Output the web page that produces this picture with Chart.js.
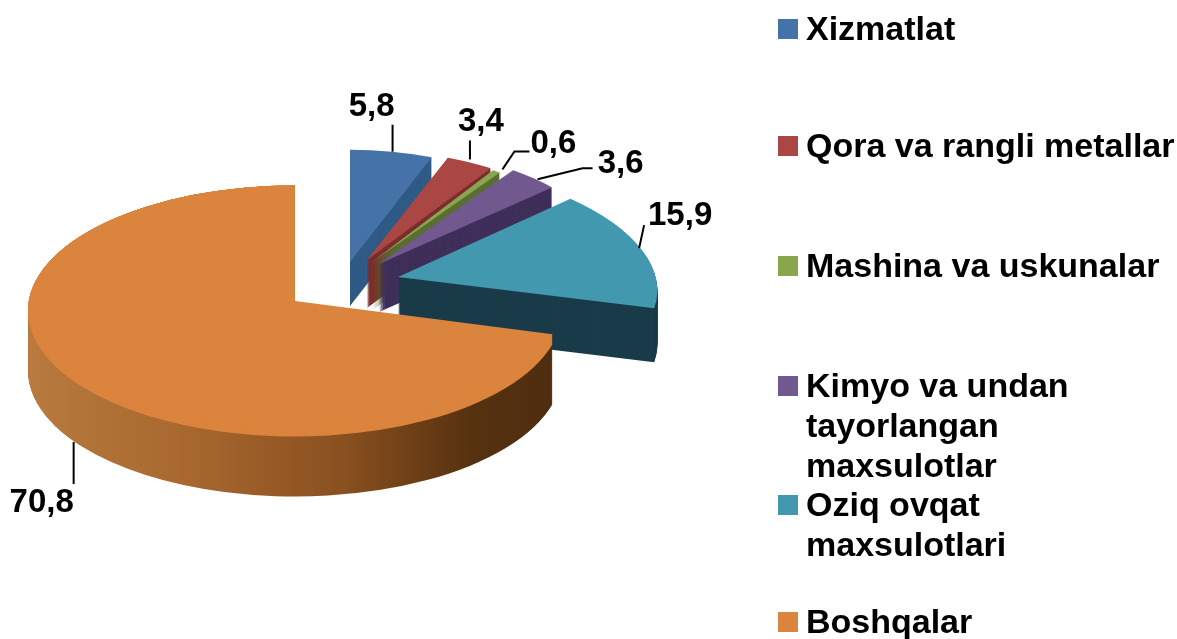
<!DOCTYPE html>
<html><head><meta charset="utf-8">
<style>html,body{margin:0;padding:0;background:#fff;overflow:hidden}canvas{display:block}</style>
<script src="https://cdn.jsdelivr.net/npm/chart.js@4"></script></head>
<body><canvas id="c" width="1177" height="639"></canvas>
<script>
const categories = ["Xizmatlat","Qora va rangli metallar","Mashina va uskunalar","Kimyo va undan tayorlangan maxsulotlar","Oziq ovqat maxsulotlari","Boshqalar"];
const values = [5.8,3.4,0.6,3.6,15.9,70.8];
const colors = ["#4572A7","#AA4643","#89A54E","#71588F","#4198AF","#DB843D"];
const wallColors = ["#2F5A85","#7A2E2C","#5A6E31","#3F2F5A","#1A3B49","#8A5020"];
// style/layout only: per-slice placement of the exploded wedges [x, y, sx, sy, depth, shear]
const placement = [[350,262,.86,.42,44,0],[367,260,.85,.41,48,0],[372,262,.83,.41,48,0],[379,264,.87,.43,48,0],[398,277,.965,.44,54,.25],[295,311,1,.47,60,0]];
const leaders = [
  [[1,0],[1,-27]],
  [[0,-3],[0,-22]],
  [[6,-2],[18,-20],[33,-20]],
  [[4,1],[49,-10],[59,-10]],
  [[-3,-2],[2,-25]],
  [[-9,55],[-9,97]]
];
const labelShift = [[-21,-18],[11,-19],[24,-8],[28,-4],[36,-9],[-32,19]];
const legendLines = [["Xizmatlat"],["Qora va rangli metallar"],["Mashina va uskunalar"],["Kimyo va undan","tayorlangan","maxsulotlar"],["Oziq ovqat","maxsulotlari"],["Boshqalar"]];
const legendY = [29,146,266,386,505,622];
const lineGap = 40;
const FAMILY = '"Liberation Sans", Arial, sans-serif';

function place(ctx,arc,p,cx,cy,d){
  ctx.translate(p[0],p[1]+d);
  ctx.transform(1,0,p[5],1,0,0);
  ctx.scale(p[2],p[3]);
  ctx.translate(-cx,-cy);
}
const pie3d = {
  id:'pie3d',
  beforeDatasetDraw(chart,args){
    const ctx = chart.ctx, arcs = args.meta.data;
    const cx = arcs[0].x, cy = arcs[0].y, R = arcs[0].outerRadius;
    arcs.forEach((arc,i)=>{
      const p = placement[i], depth = p[4];
      const base = arc.options;
      let wall = wallColors[i];
      if(i===5){
        const g = ctx.createLinearGradient(28,0,552,0);
        g.addColorStop(0,'#B87A3E');g.addColorStop(.3,'#A8682F');g.addColorStop(.6,'#8A5020');g.addColorStop(.85,'#55310F');g.addColorStop(1,'#4F2E10');
        wall = g;
      }
      arc.options = Object.assign({},base,{backgroundColor:wall,borderWidth:0});
      for(let d=depth;d>=1;d--){
        ctx.save();place(ctx,arc,p,cx,cy,d);arc.draw(ctx);ctx.restore();
      }
      arc.options = base;
      ctx.save();place(ctx,arc,p,cx,cy,0);arc.draw(ctx);ctx.restore();
      if(i===5){
        // the apex of the perspective-drawn top face sits above the ellipse centre
        ctx.save();
        ctx.beginPath();ctx.ellipse(p[0],p[1],R*p[2],R*p[3],0,0,Math.PI*2);ctx.clip();
        for(let s=-1;s>=-10;s--){
          ctx.save();place(ctx,arc,p,cx,cy,s);arc.draw(ctx);ctx.restore();
        }
        ctx.restore();
      }
    });
    ctx.save();
    ctx.font = 'bold 33px '+FAMILY;ctx.fillStyle='#000';ctx.strokeStyle='#000';ctx.lineWidth=2;
    ctx.textAlign='center';ctx.textBaseline='middle';
    arcs.forEach((arc,i)=>{
      const p = placement[i];
      const mid = (arc.startAngle+arc.endAngle)/2;
      const dy = R*Math.sin(mid)*p[3];
      const px = p[0]+R*Math.cos(mid)*p[2]+p[5]*dy, py = p[1]+dy;
      const l = leaders[i], s = labelShift[i], e = l[l.length-1];
      ctx.beginPath();
      l.forEach((v,k)=>k?ctx.lineTo(px+v[0],py+v[1]):ctx.moveTo(px+v[0],py+v[1]));
      ctx.stroke();
      ctx.fillText(String(values[i]).replace('.',','),px+e[0]+s[0],py+e[1]+s[1]);
    });
    ctx.textAlign='left';
    ctx.font = 'bold 34px '+FAMILY;
    legendLines.forEach((lines,i)=>{
      ctx.fillStyle=colors[i];ctx.fillRect(778,legendY[i]-10,20,20);
      ctx.fillStyle='#000';
      lines.forEach((t,j)=>ctx.fillText(t,806,legendY[i]+2+j*lineGap));
    });
    ctx.restore();
    return false;
  }
};
new Chart(document.getElementById('c'),{
  type:'pie',
  data:{labels:categories,datasets:[{data:values,backgroundColor:colors,borderWidth:0}]},
  options:{responsive:false,animation:false,
    layout:{padding:{left:28,right:615,top:52,bottom:53}},
    plugins:{legend:{display:false},tooltip:{enabled:false}}},
  plugins:[pie3d]
});
</script></body></html>
